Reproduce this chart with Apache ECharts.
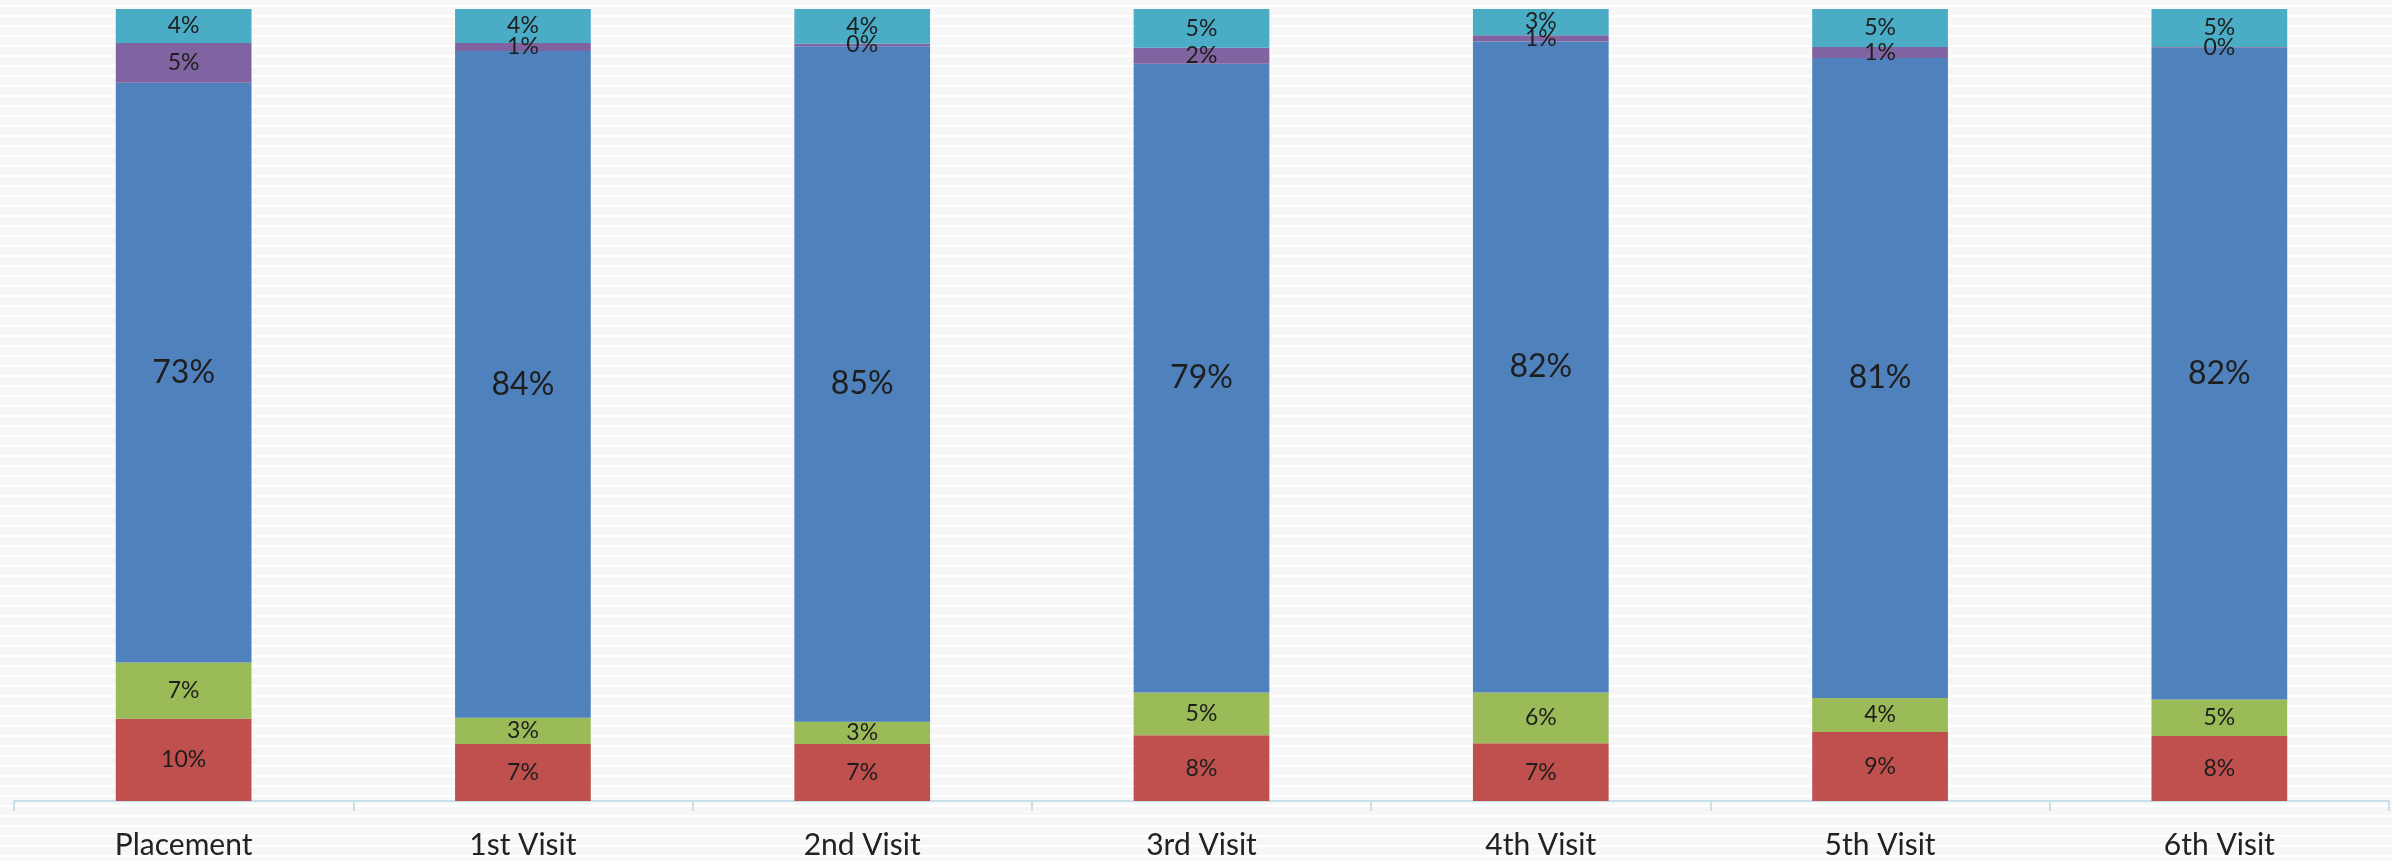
<!DOCTYPE html>
<html>
<head>
<meta charset="utf-8">
<title>Visit breakdown</title>
<script src="https://cdn.jsdelivr.net/npm/echarts@6/dist/echarts.min.js"></script>
<style>
  html, body { margin: 0; padding: 0; }
  body {
    width: 2392px; height: 861px;
    background: repeating-linear-gradient(to bottom,
      #f7f7f7 0px, #f7f7f7 5px, #ffffff 5px, #ffffff 7px, #f7f7f7 7px, #f7f7f7 10px);
  }
  #chart { width: 2392px; height: 861px; }
</style>
</head>
<body>
<div id="chart"></div>
<script>
// Categories along the x axis
const categories = ['Placement', '1st Visit', '2nd Visit', '3rd Visit', '4th Visit', '5th Visit', '6th Visit'];

// Share of each group per visit (percent), stacked bottom to top
const redValues    = [10.4, 7.2, 7.2, 8.3, 7.3, 8.7, 8.2];
const greenValues  = [7.1, 3.3, 2.8, 5.4, 6.4, 4.3, 4.6];
const blueValues   = [73.2, 84.2, 85.3, 79.4, 82.2, 80.8, 82.3];
const purpleValues = [5.0, 1.0, 0.3, 2.0, 0.8, 1.4, 0.1];
const cyanValues   = [4.3, 4.3, 4.4, 4.9, 3.3, 4.8, 4.8];

const seriesDefs = [
  { name: 'Red',    data: redValues,    color: '#C0504D', size: 23 },
  { name: 'Green',  data: greenValues,  color: '#9BBB59', size: 23 },
  { name: 'Blue',   data: blueValues,   color: '#4F81BD', size: 32 },
  { name: 'Purple', data: purpleValues, color: '#8064A2', size: 23 },
  { name: 'Cyan',   data: cyanValues,   color: '#4BACC6', size: 23 }
];

const chart = echarts.init(document.getElementById('chart'), null, { renderer: 'canvas' });

chart.setOption({
  backgroundColor: 'transparent',
  animation: false,
  grid: { left: 14, right: 3, top: 9, bottom: 60, containLabel: false },
  xAxis: {
    type: 'category',
    data: categories,
    boundaryGap: true,
    axisLine: { show: true, lineStyle: { color: '#c8e0ea', width: 2 } },
    axisTick: { show: true, length: 10, lineStyle: { color: '#c8e0ea', width: 2 } },
    axisLabel: {
      color: '#222222',
      fontFamily: 'Lato',
      fontSize: 30,
      margin: 29
    }
  },
  yAxis: {
    type: 'value',
    min: 0,
    max: 100,
    show: false,
    splitLine: { show: false }
  },
  series: seriesDefs.map(s => ({
    name: s.name,
    type: 'bar',
    stack: 'total',
    barWidth: '40%',
    data: s.data,
    itemStyle: { color: s.color },
    label: {
      show: true,
      position: 'inside',
      color: '#1e1e1e',
      fontFamily: 'Lato',
      fontSize: s.size,
      formatter: p => Math.round(p.value) + '%'
    }
  }))
});
</script>
</body>
</html>
